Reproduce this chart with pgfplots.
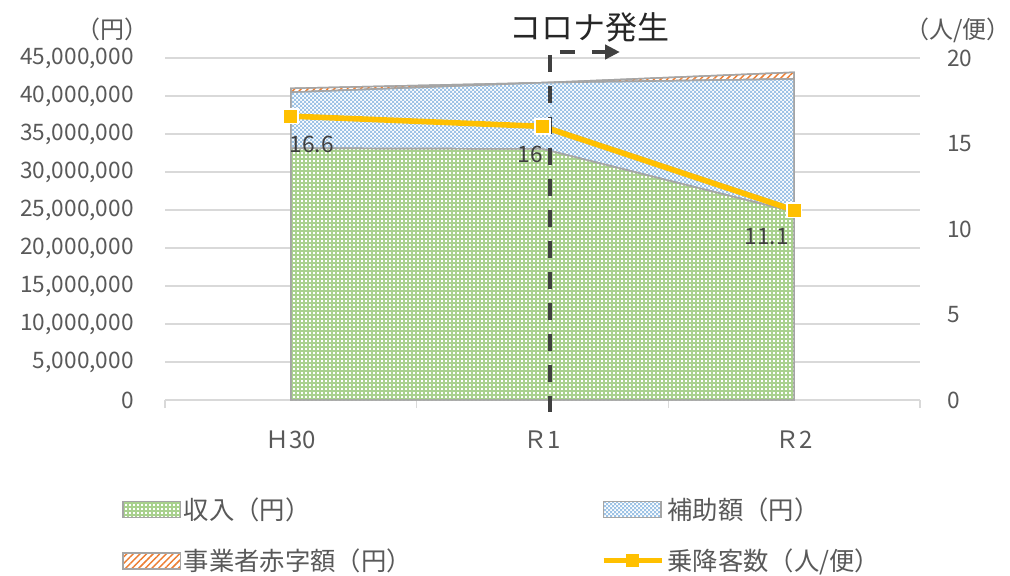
\documentclass[border=0pt]{standalone}
\usepackage{pgfplots}
\pgfplotsset{compat=1.18}
\usepackage{fontspec}
\setmainfont{Noto Sans CJK JP}
\usetikzlibrary{patterns,patterns.meta,arrows.meta}

\definecolor{cGreen}{HTML}{A9D18E}
\definecolor{cBlue}{HTML}{9DC3E6}
\definecolor{cOrange}{HTML}{ED7D31}
\definecolor{cBorder}{HTML}{A5A5A5}
\definecolor{cYellow}{HTML}{FFC000}
\definecolor{cText}{HTML}{595959}
\definecolor{cGrid}{HTML}{D9D9D9}
\definecolor{cDark}{HTML}{404040}

\pgfdeclarepatternformonly{gdots}{\pgfqpoint{-0.1pt}{-0.1pt}}{\pgfqpoint{3.1pt}{3.1pt}}{\pgfqpoint{3pt}{3pt}}{%
  \pgfpathrectangle{\pgfqpoint{0.9pt}{0.9pt}}{\pgfqpoint{1.2pt}{1.1pt}}\pgfusepath{fill}}
\pgfdeclarepatternformonly{bchecks}{\pgfqpoint{-0.1pt}{-0.1pt}}{\pgfqpoint{3.1pt}{3.1pt}}{\pgfqpoint{3pt}{3pt}}{%
  \pgfpathrectangle{\pgfpointorigin}{\pgfqpoint{1.5pt}{1.5pt}}%
  \pgfpathrectangle{\pgfqpoint{1.5pt}{1.5pt}}{\pgfqpoint{1.5pt}{1.5pt}}\pgfusepath{fill}}

\pgfplotsset{
  sqarea legend/.style={legend image code/.code={\draw[##1] (0pt,-6pt) rectangle (43pt,6pt);}},
  myline legend/.style={legend image code/.code={\draw[mark repeat=2, mark phase=2, ##1] plot coordinates {(0pt,0pt) (22pt,0pt) (44pt,0pt)};}},
}

\newcommand{\lbl}{\fontsize{17}{20}\selectfont}

\begin{document}
\begin{tikzpicture}[x=0.75pt,y=0.75pt]
\path[use as bounding box] (0,0) rectangle (1010,575);

\begin{axis}[
  at={(123.75pt,131.25pt)}, anchor=south west,
  scale only axis, width=566.25pt, height=256.5pt,
  xmin=-0.5, xmax=2.5, ymin=0, ymax=45000000,
  stack plots=y, clip=false,
  axis x line*=bottom, axis y line*=left,
  y axis line style={draw=none},
  x axis line style={draw=cGrid, line width=1pt},
  xtick={0,1,2}, xticklabels={Ｈ30,Ｒ1,Ｒ2},
  major x tick style={draw=none},
  minor xtick={-0.5,0.5,1.5,2.5},
  minor x tick style={draw=cGrid, line width=1pt},
  minor tick length=6pt, tick align=outside,
  xticklabel style={text=cText, font=\fontsize{18}{20}\selectfont, anchor=center, yshift=-30pt},
  ytick={0,5000000,10000000,15000000,20000000,25000000,30000000,35000000,40000000,45000000},
  major y tick style={draw=none}, major tick length=0pt,
  ymajorgrids, grid style={cGrid, line width=0.9pt},
  scaled y ticks=false,
  /pgf/number format/assume math mode=true,
  yticklabel style={/pgf/number format/fixed, /pgf/number format/1000 sep={,}, text=cText, font=\lbl, anchor=east, xshift=-20pt},
  legend columns=2,
  legend cell align=left,
  legend style={at={(axis description cs:-0.057,-0.284)}, anchor=north west, draw=none, fill=none,
    font=\fontsize{19}{22}\selectfont, text=cText, row sep=21pt, column sep=0pt, inner sep=0pt,
    nodes={inner xsep=2pt, inner ysep=0pt}},
]
\addplot[fill=cGreen, draw=cBorder, line width=1.1pt, postaction={pattern=gdots, pattern color=white}, sqarea legend]
  coordinates {(0,33120000) (1,33030000) (2,24740000)} \closedcycle;
\addlegendentry{\makebox[311pt][l]{収入（円）}}
\addplot[fill=white, draw=cBorder, line width=1.1pt, postaction={pattern=bchecks, pattern color=cBlue}, sqarea legend]
  coordinates {(0,7370000) (1,8720000) (2,17500000)} \closedcycle;
\addlegendentry{補助額（円）}
\addplot[fill=white, draw=cBorder, line width=1.1pt, postaction={pattern={Lines[angle=45,distance=3.5pt,line width=1.1pt]}, pattern color=cOrange}, sqarea legend]
  coordinates {(0,520000) (1,0) (2,880000)} \closedcycle;
\addlegendentry{\makebox[311pt][l]{事業者赤字額（円）}}
\addlegendimage{cYellow, line width=3.8pt, mark=square*, mark size=4.5pt, mark options={fill=cYellow, draw=cYellow, line width=0pt}, myline legend}
\addlegendentry{乗降客数（人/便）}
\end{axis}

\begin{axis}[
  at={(123.75pt,131.25pt)}, anchor=south west,
  scale only axis, width=566.25pt, height=256.5pt,
  xmin=-0.5, xmax=2.5, ymin=0, ymax=20, clip=false,
  axis x line=none, axis y line*=right,
  y axis line style={draw=none},
  ytick={0,5,10,15,20}, major y tick style={draw=none}, major tick length=0pt,
  /pgf/number format/assume math mode=true,
  yticklabel style={text=cText, font=\lbl, anchor=west, xshift=17pt},
]
\addplot[cYellow, line width=4.2pt, mark=square*, mark size=5.5pt,
  mark options={fill=cYellow, draw=white, line width=1.2pt}]
  coordinates {(0,16.6) (1,16) (2,11.1)};
\node[text=cDark, font=\lbl, xshift=15.75pt, yshift=-21pt] at (axis cs:0,16.6) {16.6};
\node[text=cDark, font=\lbl, xshift=-9pt, yshift=-21pt] at (axis cs:1,16) {16};
\node[text=cDark, font=\lbl, xshift=-20.5pt, yshift=-19.5pt] at (axis cs:2,11.1) {11.1};
\draw[cDark, line width=2.6pt, dash pattern=on 12.75pt off 10.5pt] (axis cs:1.0298,20.18) -- (axis cs:1.0298,-0.70);
\draw[cDark, line width=3pt, dash pattern=on 11.25pt off 12.75pt, -{Triangle[length=11pt,width=10.5pt]}] (axis cs:1.0694,20.35) -- (axis cs:1.3075,20.35);
\end{axis}

\node[text=cText, font=\fontsize{18}{20}\selectfont, inner sep=0pt] at (112,546) {（円）};
\node[text=cText, font=\fontsize{18}{20}\selectfont, inner sep=0pt] at (958,545) {（人/便）};
\node[text=black!85, font=\fontsize{24}{28}\selectfont] at (589,548) {コロナ発生};
\end{tikzpicture}
\end{document}
